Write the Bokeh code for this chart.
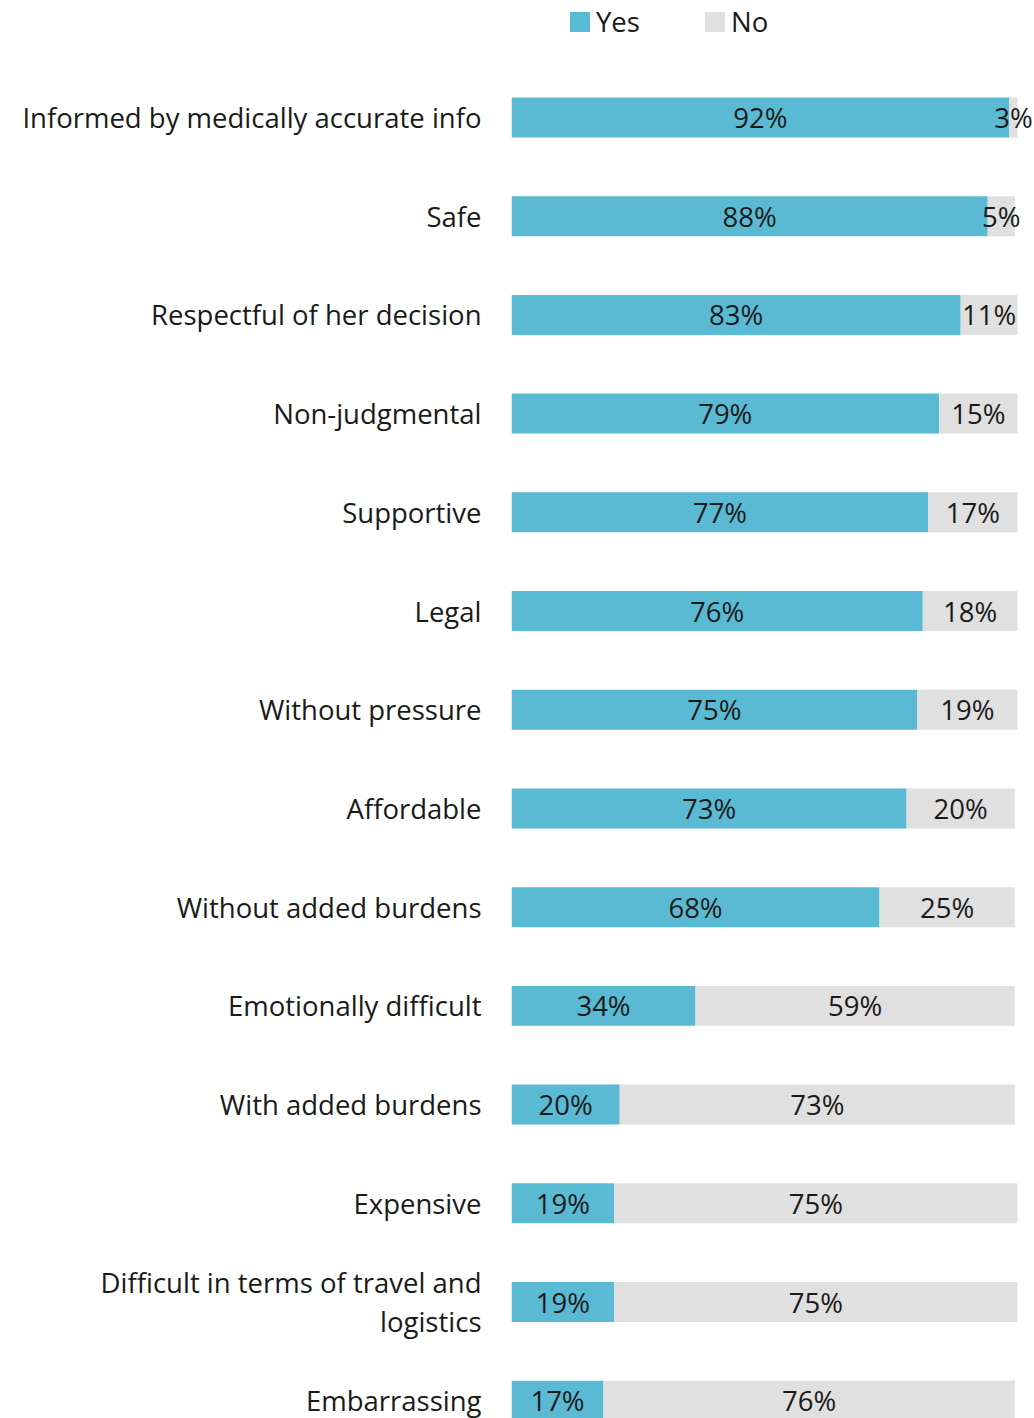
from bokeh.plotting import figure
from bokeh.models import ColumnDataSource, Range1d, FixedTicker, Legend, LegendItem
from bokeh.core.properties import value
from bokeh.embed import file_html
from bokeh.resources import INLINE

categories = [
    "Informed by medically accurate info",
    "Safe",
    "Respectful of her decision",
    "Non-judgmental",
    "Supportive",
    "Legal",
    "Without pressure",
    "Affordable",
    "Without added burdens",
    "Emotionally difficult",
    "With added burdens",
    "Expensive",
    "Difficult in terms of travel and\nlogistics",
    "Embarrassing",
]
yes_pct = [92, 88, 83, 79, 77, 76, 75, 73, 68, 34, 20, 19, 19, 17]
no_pct = [3, 5, 11, 15, 17, 18, 19, 20, 25, 59, 73, 75, 75, 76]

FONT = "Open Sans"
FS = "27.5px"
TEAL = "#5bbad3"
GRAY = "#e0e0e0"
TXT = "#1a1a1a"
BAR_END = 0.935          # where the bars stop (data units)
X_END = 0.9664           # right edge of the frame (room for labels)

n = len(categories)
ys = list(range(n))
yes = [v / 100 for v in yes_pct]
no = [v / 100 for v in no_pct]
tot = [min(a + b, BAR_END) for a, b in zip(yes, no)]
src = ColumnDataSource(dict(
    y=ys,
    yes=yes,
    tot=tot,
    zero=[0] * n,
    yes_x=[a / 2 for a in yes],
    no_x=[(a + t) / 2 for a, t in zip(yes, tot)],
    yes_lbl=[f"{v}%" for v in yes_pct],
    no_lbl=[f"{v}%" for v in no_pct],
))

H = 1418
p = figure(width=1034, height=H, output_backend="svg", toolbar_location=None,
           x_range=Range1d(0, X_END), y_range=Range1d(13.18, -1.185),
           min_border_left=511, min_border_right=0, min_border_top=0, min_border_bottom=0)

r_yes = p.hbar(y="y", left="zero", right="yes", height=0.405, source=src,
               fill_color=TEAL, line_color=None)
r_no = p.hbar(y="y", left="yes", right="tot", height=0.405, source=src,
              fill_color=GRAY, line_color=None)

p.text(x="yes_x", y="y", text="yes_lbl", source=src, text_align="center",
       text_baseline="middle", text_font=value(FONT), text_font_size=FS,
       text_color=TXT)
p.text(x="no_x", y="y", text="no_lbl", source=src, text_align="center",
       text_baseline="middle", text_font=value(FONT), text_font_size=FS,
       text_color=TXT)

p.xaxis.visible = False
p.grid.visible = False
p.outline_line_color = None

ya = p.yaxis[0]
ya.ticker = FixedTicker(ticks=ys)
ya.major_label_overrides = {i: c for i, c in enumerate(categories)}
ya.major_label_text_font = FONT
ya.major_label_text_font_size = FS
ya.major_label_text_color = TXT
ya.major_label_text_line_height = 1.05
ya.major_tick_line_color = None
ya.minor_tick_line_color = None
ya.axis_line_color = None
ya.major_tick_out = 0
ya.major_tick_in = 0
ya.major_label_standoff = 30

legend = Legend(items=[LegendItem(label="Yes", renderers=[r_yes]),
                       LegendItem(label="No", renderers=[r_no])],
                orientation="horizontal", location=(56, H - 40),
                label_text_font=FONT, label_text_font_size=FS,
                label_text_color=TXT, glyph_width=25, glyph_height=25,
                label_standoff=4, spacing=62, padding=0, margin=0,
                border_line_color=None, background_fill_alpha=0)
p.add_layout(legend, "center")

open("out.html", "w").write(file_html(p, INLINE))
